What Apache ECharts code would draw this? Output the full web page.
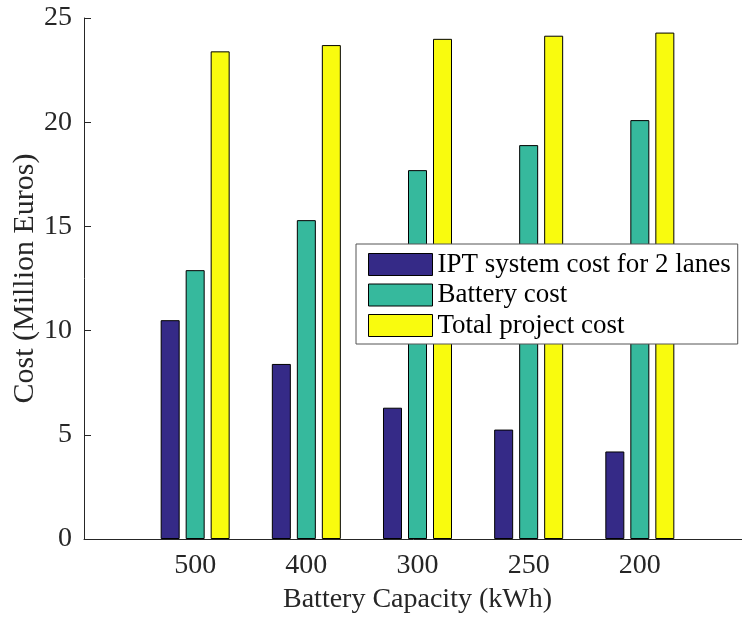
<!DOCTYPE html>
<html>
<head>
<meta charset="utf-8">
<script src="https://cdn.jsdelivr.net/npm/echarts@6/dist/echarts.min.js"></script>
<style>html,body{margin:0;padding:0;background:#fff}#c{width:742px;height:619px}</style>
</head>
<body>
<div id="c"></div>
<script>
const categories = ['500', '400', '300', '250', '200'];
const iptCost = [10.5, 8.4, 6.3, 5.25, 4.2];
const batteryCost = [12.9, 15.3, 17.7, 18.9, 20.1];
const totalCost = [23.4, 23.7, 24.0, 24.15, 24.3];
const seriesNames = ['IPT system cost for 2 lanes', 'Battery cost', 'Total project cost'];
const yTicks = [0, 5, 10, 15, 20, 25];

const FONT = '"Liberation Serif", "Times New Roman", serif';
const TXT = '#262626';
const axisCats = [''].concat(categories, ['']);
const pad = arr => [null].concat(arr, [null]);
const colors = ['#352a87', '#36b99d', '#f9fb0e'];

const chart = echarts.init(document.getElementById('c'), null, {renderer: 'canvas'});
const mk = (name, data, i) => ({
  name: name,
  type: 'bar',
  data: pad(data),
  barWidth: 19,
  barGap: '31.6%',
  itemStyle: {color: colors[i], borderColor: '#000', borderWidth: 1},
  emphasis: {disabled: true},
  animation: false
});
chart.setOption({
  animation: false,
  grid: {left: 84, right: -9, top: 18, bottom: 80, containLabel: false, outerBoundsMode: 'none'},
  legend: {
    orient: 'vertical',
    left: 356, top: 244,
    padding: [7, 7, 5, 12],
    icon: 'rect',
    itemWidth: 64, itemHeight: 22, itemGap: 3.5,
    borderColor: '#555', borderWidth: 1,
    backgroundColor: '#fff',
    textStyle: {fontFamily: FONT, fontSize: 27, color: '#000'},
    data: seriesNames,
    itemStyle: {borderColor: '#000', borderWidth: 1}
  },
  xAxis: {
    type: 'category',
    data: axisCats,
    boundaryGap: false,
    axisLine: {lineStyle: {color: TXT, width: 1}},
    axisTick: {show: false},
    axisLabel: {fontFamily: FONT, fontSize: 28, color: TXT, margin: 13, interval: 0},
    name: 'Battery Capacity (kWh)',
    nameLocation: 'middle',
    nameGap: 47,
    nameMoveOverlap: false,
    nameTextStyle: {fontFamily: FONT, fontSize: 28, color: TXT},
    splitLine: {show: false}
  },
  yAxis: {
    type: 'value',
    min: yTicks[0], max: yTicks[yTicks.length - 1], interval: 5,
    axisLine: {show: true, lineStyle: {color: TXT, width: 1}},
    axisTick: {show: true, inside: true, length: 7, lineStyle: {color: TXT}},
    axisLabel: {fontFamily: FONT, fontSize: 28, color: TXT, margin: 12},
    splitLine: {show: false},
    name: 'Cost (Million Euros)',
    nameLocation: 'middle',
    nameGap: 44,
    nameMoveOverlap: false,
    nameRotate: 90,
    nameTextStyle: {fontFamily: FONT, fontSize: 30, color: TXT}
  },
  series: [
    mk(seriesNames[0], iptCost, 0),
    mk(seriesNames[1], batteryCost, 1),
    mk(seriesNames[2], totalCost, 2)
  ]
});
</script>
</body>
</html>
